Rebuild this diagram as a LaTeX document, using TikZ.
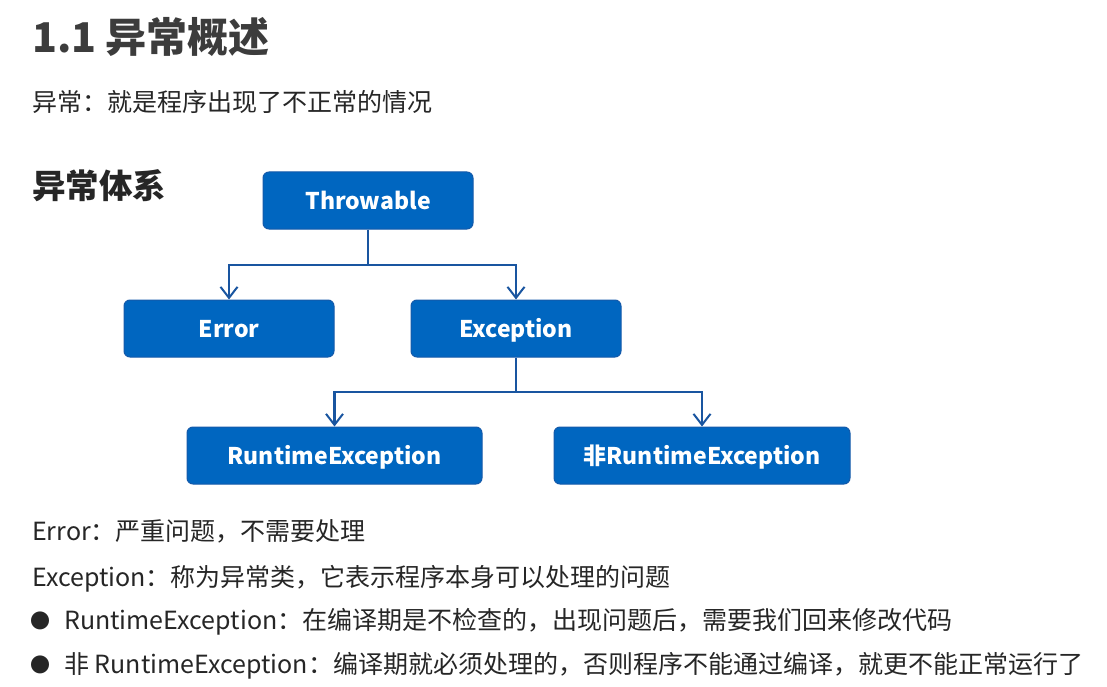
\documentclass[tikz,border=0pt]{standalone}
\usepackage{fontspec}
\setmainfont{Noto Sans CJK SC}
\usetikzlibrary{arrows.meta}
\definecolor{boxblue}{RGB}{0,102,192}
\definecolor{boxedge}{RGB}{20,90,170}
\definecolor{linkblue}{RGB}{25,85,160}
\definecolor{ink}{RGB}{38,38,38}
\tikzset{
  cls/.style={draw=boxedge, line width=1pt, fill=boxblue, rounded corners=6pt,
    minimum height=57pt, text=white, font=\fontsize{23}{27}\selectfont\bfseries,
    inner sep=0pt, text height=18pt, text depth=1pt},
  link/.style={draw=linkblue, line width=2.4pt},
  arr/.style={link, -{Straight Barb[length=11pt,width=17pt,line width=2pt]}},
  body/.style={anchor=base west, inner sep=0pt, text=ink, font=\fontsize{25}{30}\selectfont},
}
\begin{document}
\begin{tikzpicture}[x=1pt,y=-1pt]
\useasboundingbox[fill=white] (0,0) rectangle (1107,687);

% headings
\node[body, font=\fontsize{41}{48}\selectfont\bfseries, text=ink!90] (title) at (32,53) {1.1 异常概述};
\node[body, font=\fontsize{25}{30}\selectfont] (intro) at (32,112) {异常：就是程序出现了不正常的情况};
\node[body, font=\fontsize{33.5}{40}\selectfont\bfseries] (sys) at (32,198) {异常体系};

% class hierarchy
\node[cls, minimum width=210pt] (thr) at (368,200.5) {Throwable};
\node[cls, minimum width=210pt] (err) at (229,328.5) {Error};
\node[cls, minimum width=210pt] (exc) at (516,328.5) {Exception};
\node[cls, minimum width=295pt] (rte) at (334.5,455.5) {RuntimeException};
\node[cls, minimum width=296pt] (nrte) at (702,455.5) {非RuntimeException};

\coordinate (j1) at (368,265);
\coordinate (j2) at (516,392);
\draw[link] (thr.south) -- (j1);
\draw[arr] (j1) -| (err.north);
\draw[arr] (j1) -| (exc.north);
\draw[link] (exc.south) -- (j2);
\draw[arr] (j2) -| (rte.north);
\draw[arr] (j2) -| (nrte.north);

% notes
\node[body] (n1) at (32,540) {Error：严重问题，不需要处理};
\node[body] (n2) at (32,586) {Exception：称为异常类，它表示程序本身可以处理的问题};
\node[body, font=\fontsize{20}{24}\selectfont] (b1) at (30,628) {●};
\node[body] (n3) at (64,629) {RuntimeException：在编译期是不检查的，出现问题后，需要我们回来修改代码};
\node[body, font=\fontsize{20}{24}\selectfont] (b2) at (30,672) {●};
\node[body] (n4) at (64,673) {非 RuntimeException：编译期就必须处理的，否则程序不能通过编译，就更不能正常运行了};
\end{tikzpicture}
\end{document}
